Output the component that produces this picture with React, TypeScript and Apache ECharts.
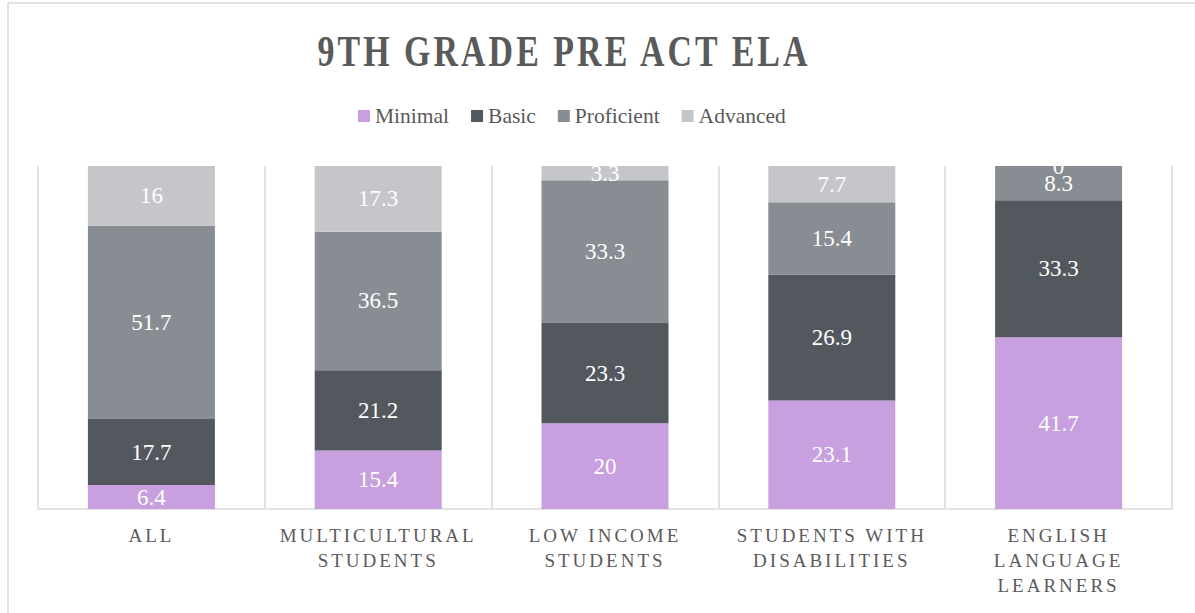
import React, { useEffect, useRef } from "react";
import * as echarts from "echarts";

const categories = [
  "ALL",
  "MULTICULTURAL\nSTUDENTS",
  "LOW INCOME\nSTUDENTS",
  "STUDENTS WITH\nDISABILITIES",
  "ENGLISH\nLANGUAGE\nLEARNERS",
];
const minimal = [6.4, 15.4, 20, 23.1, 41.7];
const basic = [17.7, 21.2, 23.3, 26.9, 33.3];
const proficient = [51.7, 36.5, 33.3, 15.4, 8.3];
const advanced = [16, 17.3, 3.3, 7.7, 0];
const seriesNames = ["Minimal", "Basic", "Proficient", "Advanced"];
const seriesColors = ["#C8A0E0", "#53575E", "#888D94", "#C4C6C9"];
const titleText = "9TH GRADE PRE ACT ELA";

const FONT = '"Liberation Serif", "Times New Roman", serif';

export default function App() {
  const ref = useRef<HTMLDivElement>(null);
  useEffect(() => {
    if (!ref.current) return;
    const chart = echarts.init(ref.current, undefined, { renderer: "svg" });
    const all = [minimal, basic, proficient, advanced];
    const totals = categories.map((_, i) => all.reduce((s, arr) => s + arr[i], 0));
    const series = all.map((arr, k) => ({
      name: seriesNames[k],
      type: "bar",
      stack: "total",
      barWidth: 127,
      itemStyle: { color: seriesColors[k] },
      label: {
        show: true,
        position: "inside",
        color: "#ffffff",
        fontFamily: FONT,
        fontSize: 23,
        formatter: (p: any) => String(arr[p.dataIndex]),
      },
      data: arr.map((v, i) => (v / totals[i]) * 100),
    }));
    chart.setOption({
      animation: false,
      backgroundColor: "#ffffff",
      graphic: [
        {
          type: "rect",
          shape: { x: 8, y: 3, width: 1400, height: 800 },
          style: { fill: "none", stroke: "#d9d9d9", lineWidth: 1.5 },
          silent: true,
        },
        {
          type: "text",
          x: 564,
          y: 51,
          scaleX: 0.77,
          style: {
            text: titleText,
            font: 'bold 44px "Liberation Serif", serif',
            fill: "#5a5a5a",
            textAlign: "center",
            textVerticalAlign: "middle",
          },
        },
      ],
      legend: {
        data: seriesNames,
        left: 353,
        top: 100,
        icon: "rect",
        itemWidth: 12,
        itemHeight: 12,
        itemGap: 22,
        textStyle: { color: "#595959", fontFamily: FONT, fontSize: 21.5 },
      },
      grid: { left: 38, right: 23, top: 166, bottom: 104, containLabel: false },
      xAxis: {
        type: "category",
        data: categories,
        axisTick: { show: false },
        axisLine: { lineStyle: { color: "#d9d9d9", width: 1.5 } },
        splitLine: { show: true, interval: 0, lineStyle: { color: "#d9d9d9", width: 1.5 } },
        axisLabel: {
          interval: 0,
          color: "#5b5b5b",
          fontFamily: FONT,
          fontSize: 19,
          lineHeight: 25,
          margin: 14,
        },
      },
      yAxis: {
        type: "value",
        min: 0,
        max: 100,
        show: false,
        splitLine: { show: false },
      },
      series,
    });
    return () => chart.dispose();
  }, []);
  return (
    <>
      <style>{`
        .chart9 text[fill="#5b5b5b"], .chart9 text[fill="rgb(91,91,91)"] { letter-spacing: 3px; }
        .chart9 text[fill="#5a5a5a"], .chart9 text[fill="rgb(90,90,90)"] { letter-spacing: 4px; }
      `}</style>
      <div
        ref={ref}
        className="chart9"
        style={{ position: "absolute", left: 0, top: 0, width: 1195, height: 613 }}
      />
    </>
  );
}
